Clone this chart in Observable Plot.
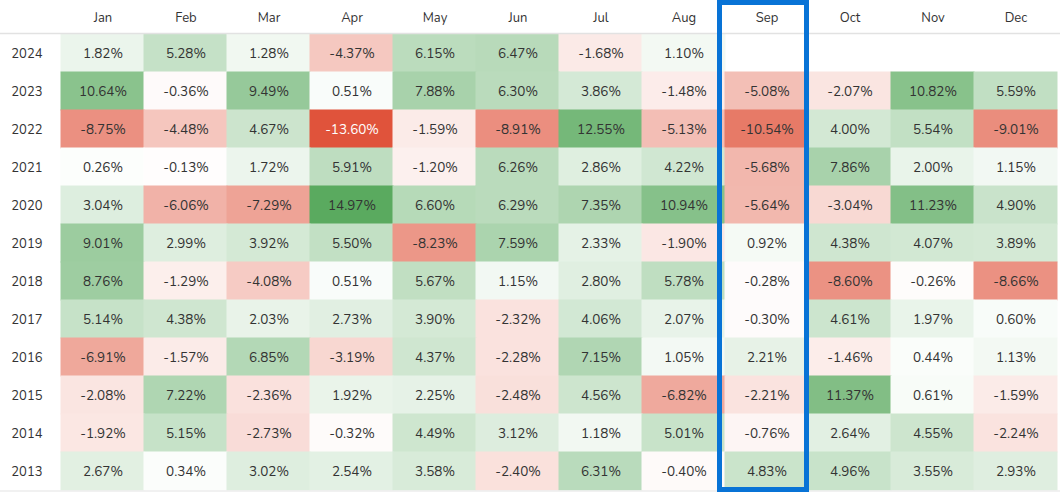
<!DOCTYPE html>
<html>
<head>
<meta charset="utf-8">
<script src="https://cdn.jsdelivr.net/npm/d3@7"></script>
<script src="https://cdn.jsdelivr.net/npm/@observablehq/plot@0.6"></script>
<style>
  html, body { margin: 0; padding: 0; background: #fff; }
  #chart svg { display: block; }
</style>
</head>
<body>
<div id="chart"></div>
<script>
const months = ["Jan","Feb","Mar","Apr","May","Jun","Jul","Aug","Sep","Oct","Nov","Dec"];
const years = [2024, 2023, 2022, 2021, 2020, 2019, 2018, 2017, 2016, 2015, 2014, 2013];
const highlightMonth = "Sep";

const r2024 = [1.82, 5.28, 1.28, -4.37, 6.15, 6.47, -1.68, 1.10, null, null, null, null];
const r2023 = [10.64, -0.36, 9.49, 0.51, 7.88, 6.30, 3.86, -1.48, -5.08, -2.07, 10.82, 5.59];
const r2022 = [-8.75, -4.48, 4.67, -13.60, -1.59, -8.91, 12.55, -5.13, -10.54, 4.00, 5.54, -9.01];
const r2021 = [0.26, -0.13, 1.72, 5.91, -1.20, 6.26, 2.86, 4.22, -5.68, 7.86, 2.00, 1.15];
const r2020 = [3.04, -6.06, -7.29, 14.97, 6.60, 6.29, 7.35, 10.94, -5.64, -3.04, 11.23, 4.90];
const r2019 = [9.01, 2.99, 3.92, 5.50, -8.23, 7.59, 2.33, -1.90, 0.92, 4.38, 4.07, 3.89];
const r2018 = [8.76, -1.29, -4.08, 0.51, 5.67, 1.15, 2.80, 5.78, -0.28, -8.60, -0.26, -8.66];
const r2017 = [5.14, 4.38, 2.03, 2.73, 3.90, -2.32, 4.06, 2.07, -0.30, 4.61, 1.97, 0.60];
const r2016 = [-6.91, -1.57, 6.85, -3.19, 4.37, -2.28, 7.15, 1.05, 2.21, -1.46, 0.44, 1.13];
const r2015 = [-2.08, 7.22, -2.36, 1.92, 2.25, -2.48, 4.56, -6.82, -2.21, 11.37, 0.61, -1.59];
const r2014 = [-1.92, 5.15, -2.73, -0.32, 4.49, 3.12, 1.18, 5.01, -0.76, 2.64, 4.55, -2.24];
const r2013 = [2.67, 0.34, 3.02, 2.54, 3.58, -2.40, 6.31, -0.40, 4.83, 4.96, 3.55, 2.93];

const rows = [r2024, r2023, r2022, r2021, r2020, r2019, r2018, r2017, r2016, r2015, r2014, r2013];

const data = [];
rows.forEach((vals, i) => {
  vals.forEach((v, j) => {
    if (v !== null) data.push({year: years[i], month: months[j], value: v});
  });
});

const minV = d3.min(data, d => d.value);
const maxV = d3.max(data, d => d.value);

const W = 1060, H = 492;

const headerLine = (index, scales, values, dims) => {
  const g = d3.create("svg:g");
  g.append("line")
    .attr("x1", 0).attr("x2", dims.width)
    .attr("y1", dims.marginTop - 0.5).attr("y2", dims.marginTop - 0.5)
    .attr("stroke", "#e2e2e2").attr("stroke-width", 1.5);
  g.append("line")
    .attr("x1", 0).attr("x2", dims.width)
    .attr("y1", dims.height - 1).attr("y2", dims.height - 1)
    .attr("stroke", "#ececec").attr("stroke-width", 1.5);
  return g.node();
};

const highlight = (index, scales, values, dims) => {
  const x0 = scales.x(highlightMonth);
  const bw = scales.x.bandwidth();
  const sw = 5;
  const left = x0 - 8, right = x0 + bw + 1;
  return d3.create("svg:rect")
    .attr("x", left + sw / 2)
    .attr("y", sw / 2)
    .attr("width", right - left - sw)
    .attr("height", dims.height - sw)
    .attr("fill", "none")
    .attr("stroke", "#0873d6")
    .attr("stroke-width", sw)
    .node();
};

const chart = Plot.plot({
  width: W,
  height: H,
  marginTop: 34,
  marginLeft: 58,
  marginRight: 0,
  marginBottom: 2,
  style: {fontFamily: "Nunito, Lato, 'Open Sans', sans-serif", fontSize: "13px", color: "#333", background: "#fff"},
  x: {domain: months, padding: 0, axis: "top", tickSize: 0, tickPadding: 13, label: null},
  y: {domain: years, padding: 0, tickSize: 0, tickPadding: 16, label: null, tickFormat: d => String(d)},
  color: {type: "linear", domain: [minV, 0, maxV], range: ["#e0533b", "#ffffff", "#5aaa5f"], interpolate: "rgb"},
  marks: [
    Plot.cell(data, {x: "month", y: "year", fill: "value", inset: -0.5}),
    Plot.text(data, {
      x: "month", y: "year",
      text: d => d.value.toFixed(2) + "%",
      fill: d => d.value < -12 ? "#ffffff" : "#333333",
      fontSize: 13.5
    }),
    headerLine,
    highlight
  ]
});

document.getElementById("chart").appendChild(chart);
</script>
</body>
</html>
